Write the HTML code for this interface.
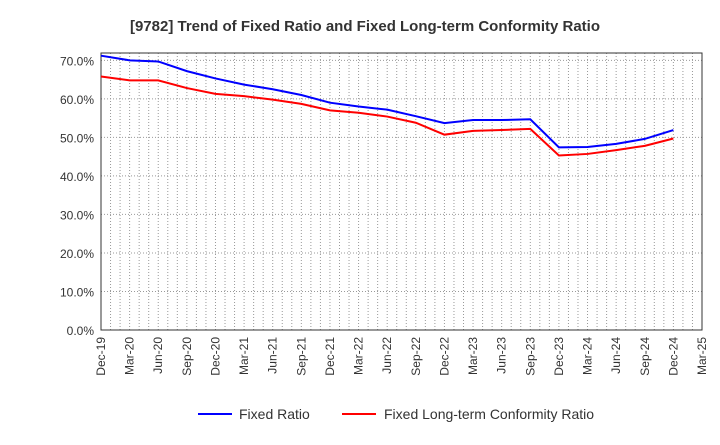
<!DOCTYPE html>
<html><head><meta charset="utf-8"><style>
body{margin:0;background:#fff;font-family:"Liberation Sans",sans-serif;}
</style></head><body>
<svg id="chart" width="720" height="440" xmlns="http://www.w3.org/2000/svg" font-family="Liberation Sans, sans-serif">
<text x="365" y="31" text-anchor="middle" font-size="15" font-weight="bold" fill="#333">[9782]  Trend of Fixed Ratio and Fixed Long-term Conformity Ratio</text>
<g id="grid"></g><g id="axes"></g><g id="series"></g>
<g>
<line x1="198" y1="414" x2="232" y2="414" stroke="#0000ff" stroke-width="2"/>
<text x="239" y="419" font-size="14" fill="#333">Fixed Ratio</text>
<line x1="342" y1="414" x2="376" y2="414" stroke="#ff0000" stroke-width="2"/>
<text x="384" y="419" font-size="14" fill="#333">Fixed Long-term Conformity Ratio</text>
</g>
</svg>
<script>
const categories=["Dec-19","Mar-20","Jun-20","Sep-20","Dec-20","Mar-21","Jun-21","Sep-21","Dec-21","Mar-22","Jun-22","Sep-22","Dec-22","Mar-23","Jun-23","Sep-23","Dec-23","Mar-24","Jun-24","Sep-24","Dec-24","Mar-25"];
const fixedRatio=[71.2,70.0,69.7,67.2,65.3,63.7,62.5,61.0,59.0,58.0,57.2,55.5,53.7,54.5,54.5,54.7,47.4,47.5,48.3,49.6,51.9];
const conformityRatio=[65.8,64.8,64.8,62.8,61.3,60.7,59.8,58.7,57.0,56.4,55.4,53.8,50.7,51.7,51.9,52.2,45.3,45.7,46.7,47.8,49.7];
const yTicks=[0,10,20,30,40,50,60,70];
const NS="http://www.w3.org/2000/svg";
const L=101,R=702,T=53,B=330,yMax=71.9;
const x=i=>L+(R-L)*i/(categories.length-1);
const y=v=>B-(B-T)*v/yMax;
function mk(tag,attrs,parent){const e=document.createElementNS(NS,tag);for(const k in attrs)e.setAttribute(k,attrs[k]);parent.appendChild(e);return e;}
const grid=document.getElementById('grid'),axes=document.getElementById('axes'),series=document.getElementById('series');
const nMonths=(categories.length-1)*3;
for(let m=1;m<nMonths;m++){const xx=L+(R-L)*m/nMonths;
const g=mk('line',{x1:xx,x2:xx,y1:T,y2:B,stroke:'#999','stroke-dasharray':'1,2','stroke-width':1},grid);

}
yTicks.forEach(v=>{const yy=y(v);
if(v>0){const g=mk('line',{x1:L,x2:R,y1:yy,y2:yy,stroke:'#999','stroke-dasharray':'1,2'},grid);

}
const t=mk('text',{x:L-7,y:yy+5,'text-anchor':'end','font-size':12,fill:'#333'},axes);t.textContent=v.toFixed(1)+'%';

});
const fr=mk('rect',{x:L,y:T,width:R-L,height:B-T,fill:'none',stroke:'#333','stroke-width':1},axes);


categories.forEach((c,i)=>{const xx=x(i);
const t=mk('text',{x:0,y:0,'text-anchor':'end','font-size':12,fill:'#333',transform:`translate(${xx+4},${B+7}) rotate(-90)`},axes);t.textContent=c;

});
function line(arr,color,name){const p=mk('polyline',{points:arr.map((v,i)=>x(i)+','+y(v)).join(' '),fill:'none',stroke:color,'stroke-width':2},series);

}
line(conformityRatio,'#ff0000','fixed-long-term-conformity-ratio-line');
line(fixedRatio,'#0000ff','fixed-ratio-line');
</script>
</body></html>
